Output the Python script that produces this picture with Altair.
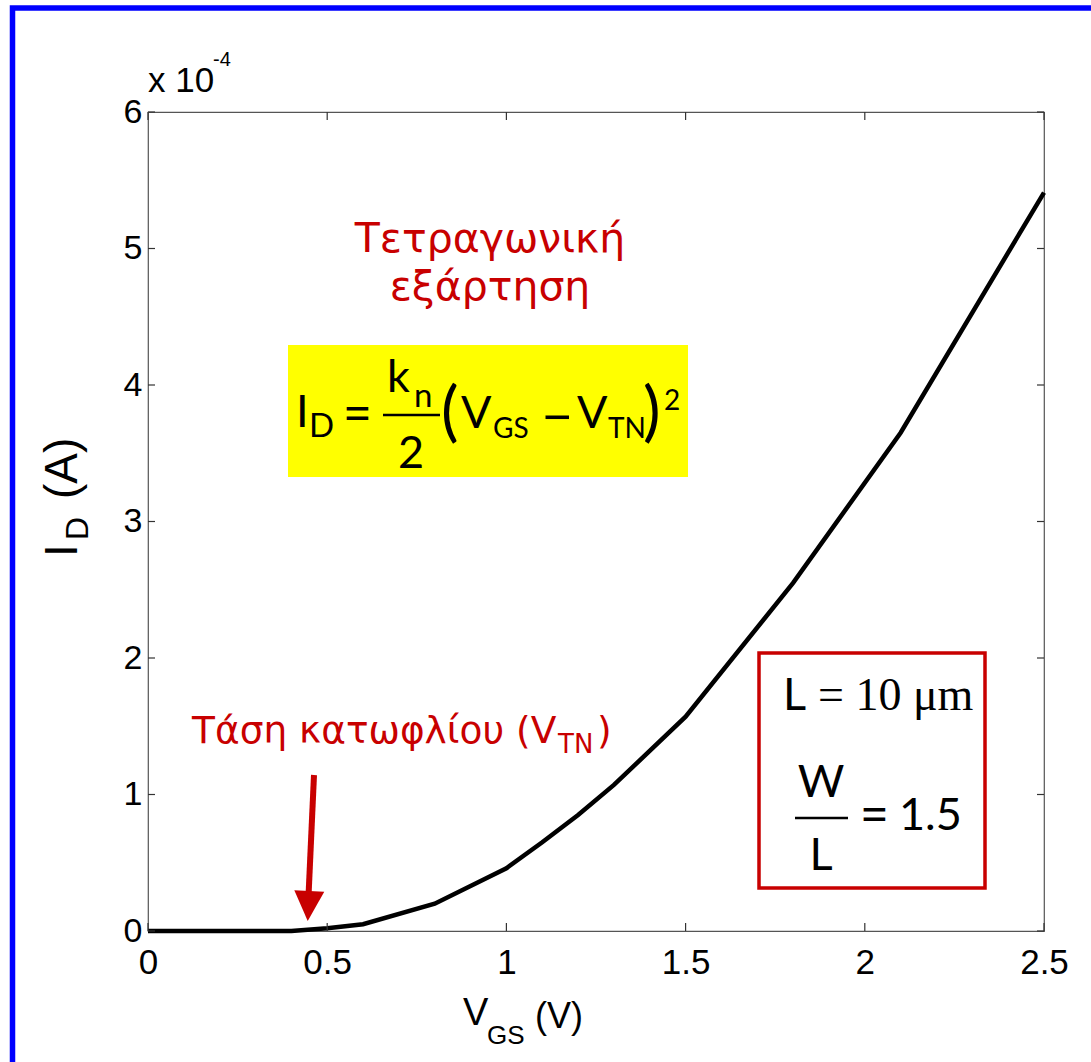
import altair as alt
import pandas as pd

# ---- data ----
vgs = [0.0, 0.4, 0.5, 0.6, 0.8, 1.0, 1.1, 1.2, 1.3, 1.5, 1.8, 2.1, 2.5]
id_e4 = [0.0, 0.0, 0.02, 0.05, 0.2, 0.46, 0.65, 0.85, 1.07, 1.57, 2.55, 3.65, 5.41]
x_ticks = [0, 0.5, 1, 1.5, 2, 2.5]
y_ticks_e4 = [0, 1, 2, 3, 4, 5, 6]

df = pd.DataFrame({"V": vgs, "I": [v / 1e4 for v in id_e4]})
y_tick_vals = [v / 1e4 for v in y_ticks_e4]
xt = pd.DataFrame({"v": x_ticks})
yt = pd.DataFrame({"v": y_tick_vals})

W, H = 896, 819
OX, OY = 148, 112
RED = "#c80000"
SANS = "Liberation Sans"
GREEK = "DejaVu Sans"
FORM = "Lato"
MATH = "Noto Sans"

xs = alt.Scale(domain=[0, 2.5], nice=False, zero=False)
ys = alt.Scale(domain=[0, 6 / 1e4], nice=False, zero=False)


def one():
    return pd.DataFrame({"a": [0]})


def txt(s, x, y, size, font, color="black", align="left", angle=0, baseline="alphabetic"):
    return alt.Chart(pd.DataFrame({"t": [s]})).mark_text(
        align=align, baseline=baseline, font=font, fontSize=size, color=color, angle=angle
    ).encode(x=alt.value(x - OX), y=alt.value(y - OY), text="t:N")


def rect(x1, y1, x2, y2, **kw):
    return alt.Chart(one()).mark_rect(**kw).encode(
        x=alt.value(x1 - OX), x2=alt.value(x2 - OX), y=alt.value(y1 - OY), y2=alt.value(y2 - OY)
    )


def hline(x1, x2, y, width=2.5, color="black"):
    return alt.Chart(one()).mark_rule(color=color, strokeWidth=width).encode(
        x=alt.value(x1 - OX), x2=alt.value(x2 - OX), y=alt.value(y - OY)
    )


border = rect(12.5, 8, 1300, 1300, fill="white", fillOpacity=0, stroke="#0000ff", strokeWidth=5.5)
yellow = rect(288, 345, 688, 477, fill="#ffff00", strokeWidth=0)
redbox = rect(759, 653, 985, 888, fill="white", stroke=RED, strokeWidth=3.5)

line = alt.Chart(df).mark_line(color="black", strokeWidth=4.5).encode(
    x=alt.X("V:Q", scale=xs, axis=alt.Axis(values=x_ticks, title=None, ticks=False, domain=False,
                                           grid=False, labelFont=SANS, labelFontSize=35,
                                           labelColor="black", labelPadding=14,
                                           labelFlush=False,
                                           labelExpr="toString(datum.value)")),
    y=alt.Y("I:Q", scale=ys, axis=alt.Axis(values=y_tick_vals, title=None,
                                           ticks=False, domain=False, grid=False, labelFont=SANS,
                                           labelFontSize=34, labelColor="black", labelPadding=6,
                                           labelFlush=False, labelOverlap=False,
                                           labelExpr="format(datum.value*1e4, 'd')")),
)

tick_col = "#333333"
xt_bot = alt.Chart(xt).mark_rule(color=tick_col, strokeWidth=1.2).encode(
    x=alt.X("v:Q", scale=xs), y=alt.value(H), y2=alt.value(H - 8))
xt_top = alt.Chart(xt).mark_rule(color=tick_col, strokeWidth=1.2).encode(
    x=alt.X("v:Q", scale=xs), y=alt.value(0), y2=alt.value(8))
yt_left = alt.Chart(yt).mark_rule(color=tick_col, strokeWidth=1.2).encode(
    y=alt.Y("v:Q", scale=ys), x=alt.value(0), x2=alt.value(7))
yt_right = alt.Chart(yt).mark_rule(color=tick_col, strokeWidth=1.2).encode(
    y=alt.Y("v:Q", scale=ys), x=alt.value(W), x2=alt.value(W - 7))

texts = [
    # exponent
    txt("x 10", 148, 92, 35, SANS),
    txt("-4", 213, 66, 20, SANS),
    # x title
    txt("V", 463, 1025, 38, SANS),
    txt("GS", 487, 1044, 26, SANS),
    txt("(V)", 535, 1028, 36, SANS),
    # y title (rotated)
    txt("I", 77, 557, 46, SANS, angle=270),
    txt("D", 88, 540, 32, SANS, angle=270),
    txt("(A)", 77, 499, 46, SANS, angle=270),
    # red annotations
    txt("Τετραγωνική", 490, 252, 41, GREEK, RED, align="center"),
    txt("εξάρτηση", 490, 300, 41, GREEK, RED, align="center"),
    txt("Τάση κατωφλίου (V", 192, 743, 37.5, GREEK, RED),
    txt("TN", 558, 753, 26, GREEK, RED),
    txt(")", 597, 743, 37.5, GREEK, RED),
    # formula
    txt("I", 296, 427, 45, FORM),
    txt("D", 309, 437, 33, FORM),
    txt("=", 344, 430, 47, MATH),
    txt("k", 387, 392, 45, FORM),
    txt("n", 414, 407, 33, FORM),
    txt("2", 411, 468, 45, FORM, align="center"),
    txt("(", 441, 434, 66, FORM),
    txt("V", 461, 428, 45, FORM),
    txt("GS", 493, 438, 28, FORM),
    txt("\u2212", 543, 435, 50, MATH),
    txt("V", 577, 428, 45, FORM),
    txt("TN", 608, 438, 28, FORM),
    txt(")", 643, 434, 66, FORM),
    txt("2", 664, 410, 28, FORM),
    # box content
    txt("L", 783, 710, 45, FORM),
    txt("= 10 μm", 818, 710, 46, "Liberation Serif"),
    txt("W", 821, 797, 45, FORM, align="center"),
    txt("L", 821, 870, 45, FORM, align="center"),
    txt("=", 861, 831, 47, MATH),
    txt("1.5", 899, 830, 45, FORM),
]

frac1 = hline(383, 440, 415)
frac2 = hline(795, 848, 818)

shaft = alt.Chart(one()).mark_rule(color=RED, strokeWidth=6, strokeCap="butt").encode(
    x=alt.value(314 - OX), x2=alt.value(308.5 - OX), y=alt.value(775 - OY), y2=alt.value(896 - OY))
head = alt.Chart(one()).mark_point(shape="M -1 -1 L 1 -1 L 0 1 Z", filled=True, size=900,
                                   color=RED, opacity=1, angle=3).encode(
    x=alt.value(308.5 - OX), y=alt.value(906 - OY))

chart = alt.layer(
    border, yellow, redbox, line, xt_bot, xt_top, yt_left, yt_right,
    frac1, frac2, shaft, head, *texts
).properties(
    width=W, height=H,
    autosize=alt.AutoSizeParams(type="none"),
    padding={"left": OX, "top": OY, "right": 1091 - OX - W, "bottom": 1062 - OY - H},
    background="white",
).configure_view(stroke="#555555", strokeWidth=1.2)

chart.save("out.html", embed_options={"renderer": "svg", "actions": False})
